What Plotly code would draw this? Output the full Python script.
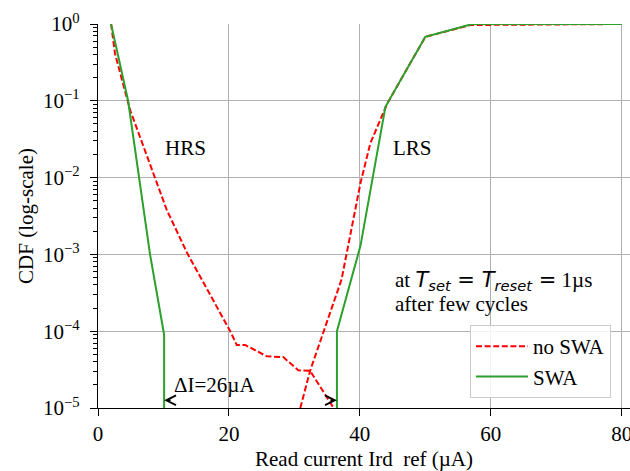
import math
import plotly.graph_objects as go

# ---------------- data ----------------
noswa_hrs_x = [2.0, 2.6, 4.9, 10.5, 13.6, 20.2, 21.2, 22.5, 25.8, 28.3, 30.6, 32.4, 36.0]
noswa_hrs_y = [1.0, 0.41, 0.076, 3.8e-3, 1.05e-3, 1.0e-4, 6.6e-5, 6.6e-5, 4.7e-5, 4.6e-5, 3.1e-5, 3.05e-5, 1.0e-5]
noswa_lrs_x = [30.9, 32.4, 37.2, 39.6, 40.1, 41.6, 44.2, 44.7, 50.0, 56.9, 80.0]
noswa_lrs_y = [1.0e-5, 3.05e-5, 4.7e-4, 5.1e-3, 8.5e-3, 0.028, 0.093, 0.11, 0.68, 0.97, 1.0]

swa_hrs_x = [2.0, 4.6, 7.95, 10.1, 10.1]
swa_hrs_y = [1.0, 0.1, 1.0e-3, 9.0e-5, 1.0e-5]
swa_lrs_x = [36.5, 36.5, 40.1, 41.1, 43.9, 44.7, 50.0, 57.2, 80.0]
swa_lrs_y = [1.0e-5, 1.0e-4, 1.3e-3, 3.8e-3, 0.083, 0.11, 0.68, 1.0, 1.0]

x_ticks = [0, 20, 40, 60, 80]
x_ticklabels = ["0", "20", "40", "60", "80"]
y_ticks = [1e-5, 1e-4, 1e-3, 1e-2, 1e-1, 1e0]
y_ticklabels = ["10<sup>\u22125</sup>", "10<sup>\u22124</sup>", "10<sup>\u22123</sup>",
                "10<sup>\u22122</sup>", "10<sup>\u22121</sup>", "10<sup>0</sup>"]

delta_left = 10.1
delta_right = 36.5
delta_level = 1.26e-5

# ---------------- figure ----------------
SERIF = "Liberation Serif, Times New Roman, serif"
FS = 21

fig = go.Figure()

fig.add_trace(go.Scatter(
    x=noswa_hrs_x + [None] + noswa_lrs_x,
    y=noswa_hrs_y + [None] + noswa_lrs_y,
    mode="lines", name="no SWA", connectgaps=False,
    line=dict(color="#ff0000", width=2, dash="6px,2.6px"),
))
fig.add_trace(go.Scatter(
    x=swa_hrs_x + [None] + swa_lrs_x,
    y=swa_hrs_y + [None] + swa_lrs_y,
    mode="lines", name="SWA", connectgaps=False,
    line=dict(color="#2ca02c", width=2),
))

# Delta-I double arrow
ly = math.log10(delta_level)
fig.add_shape(type="line", xref="x", yref="y",
              x0=delta_left + 0.5, x1=delta_right - 0.5, y0=ly, y1=ly,
              line=dict(color="black", width=2, dash="6px,2.6px"))
for xe, off in [(delta_left, 8), (delta_right, -8)]:
    fig.add_annotation(x=xe, y=ly, xref="x", yref="y", ax=off, ay=0,
                       axref="pixel", ayref="pixel", text="", showarrow=True,
                       arrowhead=5, arrowsize=1.2, arrowwidth=1.6,
                       arrowcolor="black", standoff=0)

fig.add_annotation(x=11.25, y=-4.70, xref="x", yref="y", text="\u0394I=26\u00b5A",
                   showarrow=False, xanchor="left", yanchor="middle",
                   font=dict(family=SERIF, size=FS, color="black"))
fig.add_annotation(x=13.4, y=-1.61, xref="x", yref="y", text="HRS",
                   showarrow=False, xanchor="center", yanchor="middle",
                   font=dict(family=SERIF, size=FS, color="black"))
fig.add_annotation(x=48.1, y=-1.62, xref="x", yref="y", text="LRS",
                   showarrow=False, xanchor="center", yanchor="middle",
                   font=dict(family=SERIF, size=FS, color="black"))

mt = 'style="font-family:DejaVu Sans"'
line1 = ("at <span %s><i>T</i><sub><i>set</i></sub> = <i>T</i><sub><i>reset</i></sub> =</span> 1\u00b5s" % (mt, ))
fig.add_annotation(x=45.0, y=-3.34, xref="x", yref="y", text=line1,
                   showarrow=False, xanchor="left", yanchor="middle",
                   font=dict(family=SERIF, size=FS, color="black"))
fig.add_annotation(x=45.0, y=-3.64, xref="x", yref="y", text="after few cycles",
                   showarrow=False, xanchor="left", yanchor="middle",
                   font=dict(family=SERIF, size=FS, color="black"))

plot_w = 630 - 98
x_max = 80 + (630 - 621.7) / 6.546

fig.update_layout(
    width=630, height=471,
    margin=dict(l=98, r=0, t=24, b=63, pad=0),
    paper_bgcolor="white", plot_bgcolor="white",
    font=dict(family=SERIF, size=FS, color="black"),
    showlegend=True,
    legend=dict(
        x=(611 - 98) / plot_w, y=(408 - 398) / 384.0,
        xanchor="right", yanchor="bottom",
        bgcolor="rgba(255,255,255,0.85)", bordercolor="#cccccc", borderwidth=1,
        font=dict(family=SERIF, size=FS, color="black"),
        itemwidth=52, tracegroupgap=0,
    ),
)

fig.update_xaxes(
    range=[0, x_max], tickvals=x_ticks, ticktext=x_ticklabels, automargin=False,
    ticklabeloverflow="allow",
    showline=True, linecolor="black", linewidth=1.3,
    ticks="outside", ticklen=7, tickwidth=1.3, tickcolor="black",
    showgrid=True, gridcolor="#b0b0b0", gridwidth=1.2, zeroline=False,
    tickfont=dict(family=SERIF, size=FS, color="black"),
    title=dict(text="Read current Ird\u00a0 ref (\u00b5A)", standoff=6,
               font=dict(family=SERIF, size=FS, color="black")),
)
fig.update_yaxes(
    type="log", range=[-5, 0], tickvals=y_ticks, ticktext=y_ticklabels, automargin=False,
    showline=True, linecolor="black", linewidth=1.3,
    ticks="outside", ticklen=7, tickwidth=1.3, tickcolor="black",
    showgrid=True, gridcolor="#b0b0b0", gridwidth=1.2, zeroline=False,
    ticklabelstandoff=6,
    minor=dict(ticks="outside", ticklen=4, tickwidth=1, tickcolor="black",
               dtick="D1", showgrid=False),
    tickfont=dict(family=SERIF, size=FS, color="black"),
    title=dict(text="CDF (log-scale)", standoff=3,
               font=dict(family=SERIF, size=FS, color="black")),
)

fig.write_html("out.html", config={"displayModeBar": False},
               post_script="document.body.style.margin='0';document.body.style.overflow='hidden';")
